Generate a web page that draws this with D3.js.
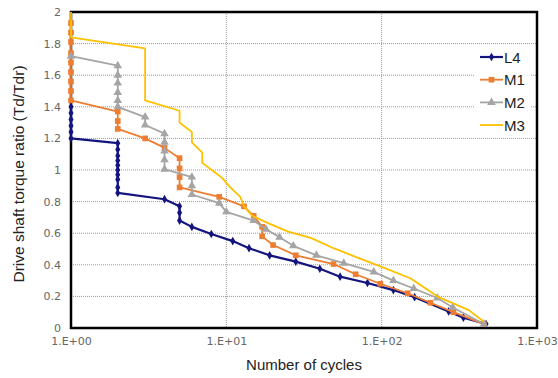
<!DOCTYPE html>
<html>
<head>
<meta charset="utf-8">
<script src="https://cdn.jsdelivr.net/npm/d3@7"></script>
<style>
  body { margin: 0; background: #fff; }
  svg { display: block; font-family: "Liberation Sans", Arial, sans-serif; }
</style>
</head>
<body>
<svg id="chart" width="558" height="378"></svg>
<script>
// Torque ratio vs. cycles, log x axis
const yTicks = [0, 0.2, 0.4, 0.6, 0.8, 1, 1.2, 1.4, 1.6, 1.8, 2];
const xTicks = [1, 10, 100, 1000];
const xTickLabels = ['1.E+00', '1.E+01', '1.E+02', '1.E+03'];

// [cycles, ratio]
const L4 = [[1,1.40],[1,1.36],[1,1.32],[1,1.28],[1,1.24],[1,1.20],[2,1.17],[2,1.13],[2,1.09],[2,1.06],
  [2,1.03],[2,1.00],[2,0.97],[2,0.94],[2,0.89],[2,0.855],[4,0.815],[5,0.77],[5,0.73],[5,0.68],[6,0.64],
  [8,0.595],[11,0.55],[14,0.505],[19,0.46],[28,0.42],[40,0.375],[54,0.325],[81,0.285],[119,0.24],
  [163,0.195],[270,0.105],[336,0.065],[470,0.025]];
const M1 = [[1,1.93],[1,1.87],[1,1.81],[1,1.74],[1,1.68],[1,1.62],[1,1.56],[1,1.50],[1,1.44],[2,1.37],
  [2,1.31],[2,1.26],[3,1.20],[4,1.14],[5,1.075],[5,1.01],[5,0.955],[5,0.89],[9,0.83],[13,0.77],[15,0.71],
  [17,0.64],[17,0.58],[20,0.525],[28,0.46],[49,0.405],[68,0.34],[98,0.28],[147,0.22],[206,0.16],
  [290,0.10],[455,0.025]];
const M2 = [[1,1.72],[2,1.66],[2,1.60],[2,1.55],[2,1.49],[2,1.44],[2,1.40],[3,1.335],[3,1.285],[4,1.23],
  [4,1.175],[4,1.12],[4,1.065],[4,1.005],[6,0.955],[6,0.90],[6,0.845],[9,0.79],[10,0.735],[15,0.68],
  [18,0.625],[22,0.575],[27,0.52],[38,0.46],[57,0.41],[89,0.355],[119,0.30],[161,0.25],[228,0.19],
  [287,0.13],[455,0.025]];
const M3 = [[1,2.0],[1,1.84],[3,1.77],[3,1.44],[5,1.375],[5,1.30],[6,1.24],[6,1.175],[7,1.11],[7,1.045],
  [8.3,0.99],[9.4,0.95],[10.6,0.89],[12.3,0.83],[13,0.77],[14.7,0.71],[18.4,0.665],[25,0.61],[35,0.57],
  [49,0.505],[70,0.445],[98,0.39],[153,0.315],[233,0.195],[364,0.113],[455,0.04]];

const series = [
  { name: 'L4', data: L4, color: '#14147f', symbol: d3.symbolDiamond, size: 22, width: 2.2 },
  { name: 'M1', data: M1, color: '#ed7d31', symbol: d3.symbolSquare, size: 32, width: 1.8 },
  { name: 'M2', data: M2, color: '#a5a5a5', symbol: d3.symbolTriangle, size: 32, width: 1.8 },
  { name: 'M3', data: M3, color: '#ffc000', symbol: null, size: 0, width: 1.8 }
];

const svg = d3.select('#chart');
const margin = { left: 71, right: 21, top: 12, bottom: 50 };
const width = 558 - margin.left - margin.right;
const height = 378 - margin.top - margin.bottom;

const x = d3.scaleLog().domain([1, 1000]).range([0, width]);
const y = d3.scaleLinear().domain([0, 2]).range([height, 0]);

const g = svg.append('g').attr('transform', `translate(${margin.left},${margin.top})`);

// grid
g.append('g')
  .selectAll('line')
  .data(yTicks.slice(1, -1))
  .enter()
  .append('line')
  .attr('x1', 0).attr('x2', width)
  .attr('y1', d => y(d)).attr('y2', d => y(d))
  .style('stroke', '#999').style('stroke-width', 1).style('stroke-dasharray', '1,1');

g.append('g')
  .selectAll('line')
  .data(xTicks.slice(1, -1))
  .enter()
  .append('line')
  .attr('y1', 0).attr('y2', height)
  .attr('x1', d => x(d)).attr('x2', d => x(d))
  .style('stroke', '#999').style('stroke-width', 1).style('stroke-dasharray', '1,1');

// axes (labels only)
const yAxis = g.append('g')
  .call(d3.axisLeft(y).tickValues(yTicks).tickFormat(d3.format('')).tickSize(0).tickPadding(10));
const xAxis = g.append('g')
  .attr('transform', `translate(0,${height})`)
  .call(d3.axisBottom(x).tickValues(xTicks).tickFormat((d, i) => xTickLabels[i]).tickSize(0).tickPadding(9));
[yAxis, xAxis].forEach(a => {
  a.select('.domain').remove();
  a.selectAll('text').style('fill', '#666')
    .style('font-family', '"DejaVu Sans", sans-serif').style('font-size', '11px');
});

// legend background
const legend = g.append('g').attr('transform', `translate(${475 - margin.left},${45 - margin.top})`);
legend.append('rect').attr('width', 56).attr('height', 90).style('fill', '#fff');

// frame (markers sit on top of it)
g.append('rect')
  .attr('width', width).attr('height', height)
  .style('fill', 'none').style('stroke', '#000').style('stroke-width', 2.5);

// lines
const line = d3.line().x(d => x(d[0])).y(d => y(d[1]));
series.forEach(s => {
  g.append('path')
    .datum(s.data)
    .attr('d', line)
    .style('fill', 'none')
    .style('stroke', s.color)
    .style('stroke-width', s.width)
    .style('stroke-linejoin', 'round');
  if (s.symbol) {
    g.append('g')
      .selectAll('path')
      .data(s.data)
      .enter()
      .append('path')
      .attr('transform', d => `translate(${x(d[0])},${y(d[1])})`)
      .attr('d', d3.symbol().type(s.symbol).size(s.size))
      .style('fill', s.color);
  }
});

// legend items
const items = legend.selectAll('.legend-item')
  .data(series)
  .enter()
  .append('g')
  .attr('class', 'legend-item')
  .attr('transform', (d, i) => `translate(5, ${12 + i * 22.7})`);

items.append('line')
  .attr('x1', 0).attr('x2', 23)
  .style('stroke', d => d.color).style('stroke-width', d => d.width);
items.filter(d => d.symbol)
  .append('path')
  .attr('transform', 'translate(11.5,0)')
  .attr('d', d => d3.symbol().type(d.symbol).size(d.size)())
  .style('fill', d => d.color);
items.append('text')
  .attr('x', 24).attr('y', 5.5)
  .style('fill', '#222').style('font-size', '15px')
  .text(d => d.name);

// axis titles
svg.append('text')
  .attr('x', margin.left + width / 2).attr('y', 370)
  .attr('text-anchor', 'middle')
  .style('fill', '#222').style('font-size', '15px')
  .text('Number of cycles');

svg.append('text')
  .attr('transform', `translate(24,${margin.top + height / 2 + 4}) rotate(-90)`)
  .attr('text-anchor', 'middle')
  .style('fill', '#222').style('font-size', '15.5px')
  .text('Drive shaft torque ratio (Td/Tdr)');
</script>
</body>
</html>
